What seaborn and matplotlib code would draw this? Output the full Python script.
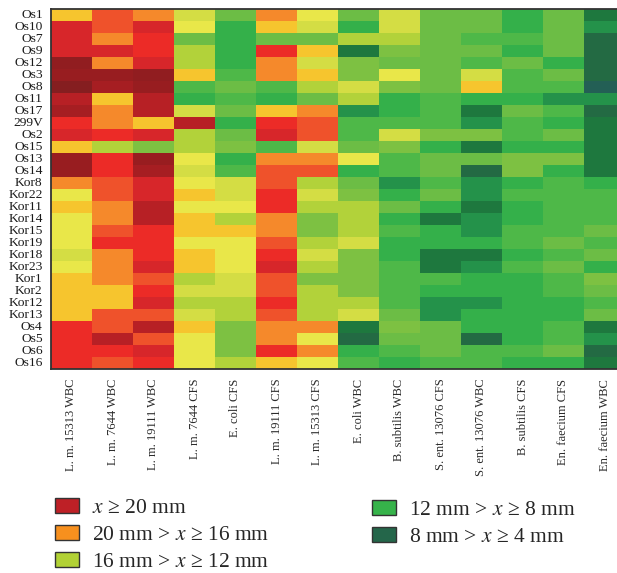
import numpy as np
import pandas as pd
import matplotlib
matplotlib.use("Agg")
import matplotlib.pyplot as plt
from matplotlib.colors import LinearSegmentedColormap
from matplotlib.patches import Patch
import seaborn as sns

# ---------------- data (inhibition zone, mm) ----------------
strains = ["Os1", "Os10", "Os7", "Os9", "Os12", "Os3", "Os8", "Os11", "Os17", "299V",
           "Os2", "Os15", "Os13", "Os14", "Kor8", "Kor22", "Kor11", "Kor14", "Kor15", "Kor19",
           "Kor18", "Kor23", "Kor1", "Kor2", "Kor12", "Kor13", "Os4", "Os5", "Os6", "Os16"]

pathogens = ["L. m. 15313 WBC", "L. m. 7644 WBC", "L. m. 19111 WBC", "L. m. 7644 CFS",
             "E. coli CFS", "L. m. 19111 CFS", "L. m. 15313 CFS", "E. coli WBC",
             "B. subtilis WBC", "S. ent. 13076 CFS", "S. ent. 13076 WBC", "B. subtilis CFS",
             "En. faecium CFS", "En. faecium WBC"]

lm15313_wbc = [15.5, 21, 21, 21, 25, 24.5, 26, 22.5, 23.5, 20, 21, 15.5, 24.5, 24.5, 17,
               14.5, 15.5, 14.5, 14.5, 14.5, 13.5, 14.5, 15.5, 15.5, 15.5, 15.5, 20, 20, 20, 20]
lm7644_wbc = [18.5, 18.5, 17, 21, 17, 24.5, 23.5, 15.5, 17, 17, 20, 12.5, 20, 20, 18.5,
              18.5, 17, 17, 18.5, 20, 17, 17, 17, 15.5, 15.5, 18.5, 18.5, 22.5, 20, 18.5]
lm19111_wbc = [17, 21, 20, 20, 21, 25, 24.5, 22.5, 22.5, 15.5, 21, 11.5, 24.5, 23.5, 21,
               21, 22.5, 22.5, 20, 20, 20, 21, 18.5, 20, 21, 18.5, 22.5, 18.5, 21, 20]
lm7644_cfs = [13.5, 14.5, 11, 12.5, 12.5, 15.5, 10, 9, 13.5, 22.5, 12.5, 12.5, 14.5, 13.5, 14.5,
              15.5, 14.5, 15.5, 15.5, 14.5, 15.5, 15.5, 12.5, 13.5, 12.5, 13.5, 15.5, 14.5, 14.5, 14.5]
ecoli_cfs = [11, 9, 9, 9, 9, 10, 11, 10, 11, 9, 11, 11.5, 9, 10, 13.5,
             13.5, 14.5, 12.5, 15.5, 14.5, 14.5, 14.5, 13.5, 13.5, 12.5, 12.5, 11.5, 11.5, 11.5, 12.5]
lm19111_cfs = [17, 15.5, 11, 20, 17, 17, 10, 9, 15.5, 20, 21, 10, 17, 18.5, 18.5,
               20, 20, 17, 17, 18.5, 20, 21, 18.5, 18.5, 20, 18.5, 17, 17, 20, 15.5]
lm15313_cfs = [14.5, 13.5, 11, 15.5, 13.5, 15.5, 12.5, 11, 17, 18.5, 18.5, 13.5, 17, 18.5, 12.5,
               13.5, 12.5, 11.5, 11.5, 12.5, 13.5, 12.5, 11.5, 12.5, 12.5, 12.5, 17, 14.5, 17, 14.5]
ecoli_wbc = [11, 9, 12.5, 6, 11.5, 11.5, 13.5, 12.5, 7.5, 10, 10, 11, 14.5, 9, 11,
             11.5, 12.5, 12.5, 12.5, 13.5, 11.5, 11.5, 11.5, 11.5, 12.5, 13.5, 6, 5, 9, 10]
bsub_wbc = [13.5, 13.5, 12.5, 11.5, 11, 14.5, 11.5, 9, 9, 10, 13.5, 11.5, 10, 10, 7.5,
            9, 11, 9, 10, 9, 9, 10, 10, 10, 10, 11, 11.5, 11, 10, 9]
sent_cfs = [11, 11, 11, 11, 11, 11, 11, 10, 10, 10, 11.5, 9, 11, 11, 10,
            11, 9, 6, 9, 9, 6, 6, 10, 9, 7.5, 7.5, 11, 11, 11, 10]
sent_wbc = [11, 11, 10, 11, 10, 13.5, 15.5, 9, 6, 7.5, 11.5, 6, 11, 5, 7.5,
            7.5, 6, 7.5, 7.5, 9, 6, 7.5, 9, 9, 7.5, 9, 9, 5, 10, 10]
bsub_cfs = [9, 9, 10, 9, 11, 10, 10, 9, 11, 10, 10, 9, 11.5, 11.5, 9,
            10, 9, 9, 10, 10, 9, 10, 9, 9, 9, 9, 9, 9, 10, 9]
efae_cfs = [11, 11, 11, 11, 9, 11, 10, 7.5, 10, 9, 11, 9, 11.5, 9, 10,
            10, 10, 10, 10, 11, 10, 11, 10, 10, 9, 9, 10, 10, 11, 9]
efae_wbc = [6, 7.5, 5, 5, 5, 5, 4, 7.5, 5, 6, 6, 6, 6, 6, 9,
            10, 10, 10, 11, 10, 11, 9, 11.5, 11, 10, 11, 6, 7.5, 5, 6]

legend_labels_left = [r"$x$ ≥ 20 mm", r"20 mm > $x$ ≥ 16 mm", r"16 mm > $x$ ≥ 12 mm"]
legend_labels_right = [r"12 mm > $x$ ≥ 8 mm", r"8 mm > $x$ ≥ 4 mm"]

# ---------------- build table ----------------
columns = [lm15313_wbc, lm7644_wbc, lm19111_wbc, lm7644_cfs, ecoli_cfs, lm19111_cfs,
           lm15313_cfs, ecoli_wbc, bsub_wbc, sent_cfs, sent_wbc, bsub_cfs, efae_cfs, efae_wbc]
df = pd.DataFrame({p: c for p, c in zip(pathogens, columns)}, index=strains)

# ---------------- style ----------------
sns.set_theme(style="white")
plt.rcParams["font.family"] = ["Liberation Serif", "DejaVu Serif"]
plt.rcParams["mathtext.fontset"] = "stix"

anchors = [(4, "#235f55"), (5, "#236b42"), (6, "#1e783e"), (7.5, "#24934a"), (9, "#34b04a"),
           (10, "#4fb848"), (11, "#6cbd45"), (11.5, "#7dc142"), (12.5, "#b5d33a"),
           (13.5, "#d4dd44"), (14.5, "#e9e84a"), (15.5, "#f6c42d"), (17, "#f58a2b"),
           (18.5, "#ef522b"), (20, "#ed2b27"), (21, "#d7262a"), (22.5, "#b82025"),
           (23.5, "#a61e22"), (24.5, "#981d20"), (26, "#851e20")]
vmin, vmax = 4, 26
cmap = LinearSegmentedColormap.from_list(
    "zone", [((v - vmin) / (vmax - vmin), c) for v, c in anchors])

W, H = 617, 573
fig = plt.figure(figsize=(W / 100, H / 100), dpi=100)
ax = fig.add_axes([51 / W, (H - 369) / H, 574 / W, 360.5 / H])

sns.heatmap(df, cmap=cmap, vmin=vmin, vmax=vmax, cbar=False, ax=ax)

ncol = len(pathogens)
nrow = len(strains)
ax.set_xticks(np.arange(ncol) + 0.5)
ax.set_xticklabels(pathogens, rotation=90, fontsize=9, color="#2a2a2a", va="top", ha="center")
ax.set_yticks(np.arange(nrow) + 0.5)
ax.set_yticklabels(strains, rotation=0, fontsize=9.7, color="#1a1a1a")
ax.tick_params(axis="x", which="major", length=0, pad=7)
ax.set_xticks(np.arange(1, ncol, 2) + 0.5, minor=True)
ax.tick_params(axis="x", which="minor", direction="in", length=3, width=1,
               color="#333333", top=True, bottom=True)
ax.tick_params(axis="y", which="major", direction="in", length=3, width=1,
               color="#333333", left=True, pad=6)
ax.set_xlabel("")
ax.set_ylabel("")
for side in ["left", "top", "bottom"]:
    ax.spines[side].set_visible(True)
    ax.spines[side].set_color("#333333")
    ax.spines[side].set_linewidth(1.3)
ax.spines["right"].set_visible(False)

# ---------------- legend ----------------
left_colors = ["#be2026", "#f7901e", "#b2d235"]
right_colors = ["#36b34a", "#24664a"]
kw = dict(frameon=False, fontsize=15.5, borderpad=0, borderaxespad=0,
          handlelength=1.1, handleheight=0.72, handletextpad=0.6, labelspacing=0.31,
          loc="upper left")
h_left = [Patch(facecolor=c, edgecolor="#333333", linewidth=1) for c in left_colors]
h_right = [Patch(facecolor=c, edgecolor="#333333", linewidth=1) for c in right_colors]
leg1 = fig.legend(h_left, legend_labels_left, bbox_to_anchor=(55 / W, 1 - 498 / H), **kw)
leg2 = fig.legend(h_right, legend_labels_right, bbox_to_anchor=(372 / W, 1 - 500 / H), **kw)

fig.savefig("out.png", dpi=100)
